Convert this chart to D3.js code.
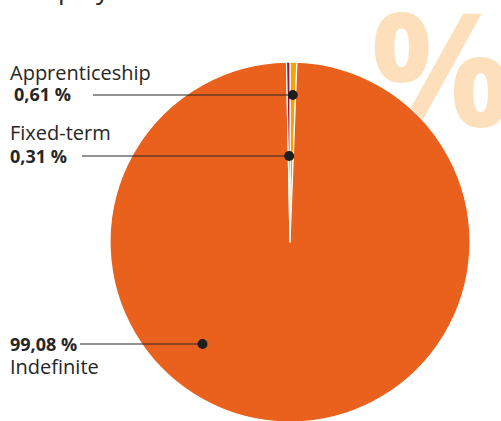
<!DOCTYPE html>
<meta charset="utf-8">
<body style="margin:0;background:#fff">
<style>
  svg { display: block; }
  text { font-family: "Open Sans", sans-serif; fill: #262626; }
  .lbl { font-size: 20px; }
  .val { font-size: 18px; font-weight: bold; }
  .mark { fill: #fde0bb; font-weight: bold; font-size: 158px; }
</style>
<svg width="501" height="421"></svg>
<script src="https://d3js.org/d3.v7.min.js"></script>
<script>

// data
var categories = ["Apprenticeship", "Indefinite", "Fixed-term"];
var shares = [0.61, 99.08, 0.31];
var valueLabels = ["0,61 %", "99,08 %", "0,31 %"];
var colors = ["#f6a300", "#ea611e", "#8a1c3c"];

// svg
var svg = d3.select("svg"),
    width = +svg.attr("width"),
    height = +svg.attr("height");

var cx = 290, cy = 242, r = 180;

// big % in the background
svg.append("text")
    .attr("class", "mark")
    .attr("x", 370)
    .attr("y", 127)
    .text("%");

// title, only its bottom shows
var title = svg.append("text")
    .attr("y", -1)
    .style("font-size", "26px")
    .text("Employment contracts");
var pre = svg.append("text").style("font-size", "26px").text("Em");
var preW = pre.node().getComputedTextLength();
pre.remove();
title.attr("x", 58 - preW);

// pie
var pie = d3.pie().sort(null).value(function(d) { return d; });
var arc = d3.arc().innerRadius(0).outerRadius(r);
var arcs = pie(shares);

var g = svg.append("g")
    .attr("transform", "translate(" + cx + "," + cy + ")");

g.selectAll("path")
    .data(arcs)
    .enter().append("path")
        .attr("d", arc)
        .attr("fill", function(d, i) { return colors[i]; })
        .attr("stroke", "#fff")
        .attr("stroke-width", 1.2)
        .attr("stroke-linejoin", "round");

// annotations: dot radius, dot angle (null = slice middle), label y
var dotRadius = [147, 134, 86];
var dotAngle = [null, -2.43, null];
var lineY = [95, 344, 156];
var lineX0 = [93, 80, 82];

var ann = svg.append("g");
arcs.forEach(function(d, i) {
    var a = dotAngle[i] != null ? dotAngle[i] : (d.startAngle + d.endAngle) / 2;
    var px = cx + dotRadius[i] * Math.sin(a);
    ann.append("line")
        .attr("x1", lineX0[i]).attr("y1", lineY[i])
        .attr("x2", px).attr("y2", lineY[i])
        .attr("stroke", "#262626")
        .attr("stroke-width", 1);
    ann.append("circle")
        .attr("cx", px).attr("cy", lineY[i])
        .attr("r", 5)
        .attr("fill", "#1e1e1e");
});

// label texts
function label(name, value, nameY, valueY, valueX) {
    ann.append("text").attr("class", "lbl").attr("x", 10).attr("y", nameY).text(name);
    ann.append("text").attr("class", "val").attr("x", valueX).attr("y", valueY).text(value);
}
label(categories[0], valueLabels[0], 80, 101, 14);
label(categories[2], valueLabels[2], 140, 163, 10);
label(categories[1], valueLabels[1], 374, 351, 10);

</script>
</body>
